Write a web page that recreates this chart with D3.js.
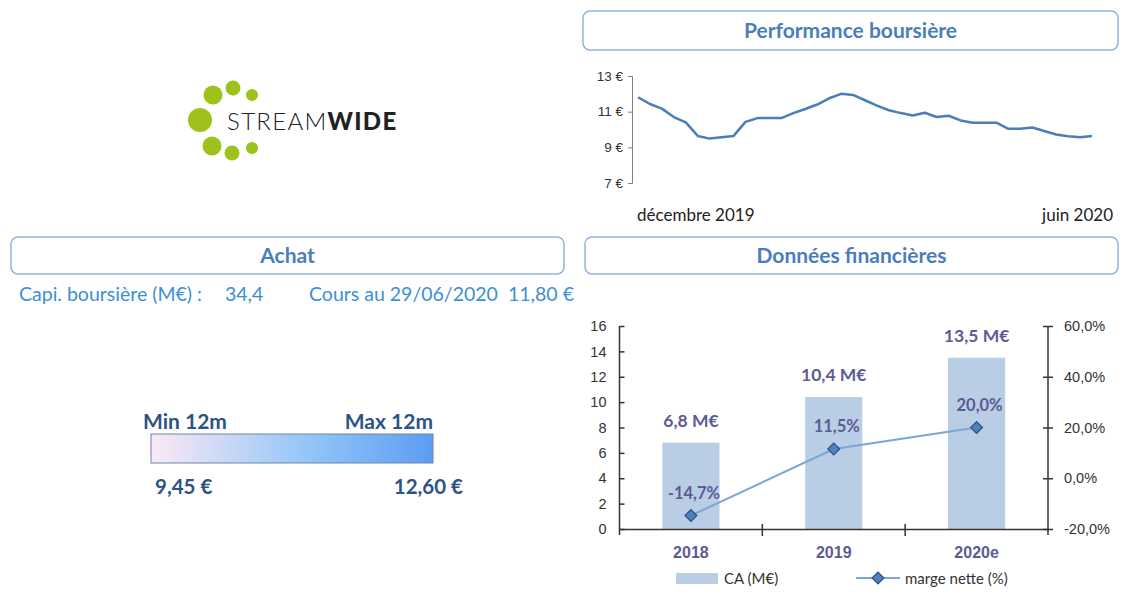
<!DOCTYPE html>
<html>
<head>
<meta charset="utf-8">
<script src="https://cdn.jsdelivr.net/npm/d3@7"></script>
<style>
  body { margin: 0; background: #fff; }
  svg { font-family: Lato, "Open Sans", sans-serif; }
  .panel-title { font-weight: bold; font-size: 21px; fill: #4a7ebb; }
  .axis path, .axis line { stroke: #7f7f7f; }
  .axis text { fill: #333; }
</style>
</head>
<body>
<svg id="chart" width="1125" height="614"></svg>
<script>
// --- data ---
const priceValues = [11.81, 11.43, 11.17, 10.70, 10.40, 9.64, 9.49, 9.57, 9.64, 10.43,
  10.64, 10.64, 10.64, 10.92, 11.15, 11.40, 11.75, 12.00, 11.94, 11.64,
  11.34, 11.08, 10.92, 10.79, 10.94, 10.70, 10.77, 10.51, 10.38, 10.38,
  10.38, 10.04, 10.04, 10.11, 9.92, 9.72, 9.62, 9.57, 9.64];
const priceTicks = [7, 9, 11, 13];
const priceDateLabels = ['décembre 2019', 'juin 2020'];

const years = ['2018', '2019', '2020e'];
const caValues = [6.8, 10.4, 13.5];
const margeValues = [-14.7, 11.5, 20.0];
const caTicks = [0, 2, 4, 6, 8, 10, 12, 14, 16];
const margeTicks = [-20, 0, 20, 40, 60];

const capiLabel = 'Capi. boursière (M€) :';
const capiValue = '34,4';
const coursLabel = 'Cours au 29/06/2020';
const coursValue = '11,80 €';
const min12m = 9.45;
const max12m = 12.60;

const fr = d3.formatLocale({decimal: ',', thousands: ' ', grouping: [3], currency: ['', ' €'], minus: '-'});
const fmt1 = fr.format('.1f');
const fmt2 = fr.format('.2f');

const svg = d3.select('#chart');

// --- panel headers ---
function panel (x, y, w, h, title) {
    svg.append('rect')
        .attr('x', x).attr('y', y).attr('width', w).attr('height', h)
        .attr('rx', 7)
        .attr('fill', '#fff')
        .attr('stroke', '#8eb4e3')
        .attr('stroke-width', 1.5);
    svg.append('text')
        .attr('class', 'panel-title')
        .attr('x', x + w / 2)
        .attr('y', y + h / 2 + 7)
        .attr('text-anchor', 'middle')
        .text(title);
}
panel(583, 11, 535, 39, 'Performance boursière');
panel(11, 237, 553, 37, 'Achat');
panel(585, 237, 533, 37, 'Données financières');

// --- logo ---
const logo = svg.append('g');
const green = '#9dc21b';
[[200, 120, 12], [213, 95, 9.5], [233, 88, 7.5], [252, 95, 6],
 [212, 146, 9.5], [232, 153, 7.5], [252, 148, 6]].forEach(c => {
    logo.append('circle').attr('cx', c[0]).attr('cy', c[1]).attr('r', c[2]).attr('fill', green);
});
const logoText = logo.append('text')
    .attr('x', 227).attr('y', 130)
    .attr('font-size', 24)
    .attr('fill', '#222')
    .attr('letter-spacing', 1.3);
logoText.append('tspan').attr('font-weight', 300).text('STREAM');
logoText.append('tspan').attr('font-weight', 900).text('WIDE');

// --- price line chart ---
const pAxisX = 632, pTop = 76, pBottom = 183;
const xPrice = d3.scaleLinear().domain([0, priceValues.length - 1]).range([638, 1092]);
const yPrice = d3.scaleLinear().domain([7, 13]).range([pBottom, pTop]);

svg.append('g')
    .attr('class', 'axis')
    .attr('transform', `translate(${pAxisX},0)`)
    .call(d3.axisLeft(yPrice).tickValues(priceTicks).tickSize(4).tickPadding(5)
        .tickFormat(d => d + ' €'))
    .call(g => g.selectAll('text').attr('font-size', 13.5));

svg.append('path')
    .datum(priceValues)
    .attr('fill', 'none')
    .attr('stroke', '#4a7ebb')
    .attr('stroke-width', 2.5)
    .attr('stroke-linejoin', 'round')
    .attr('d', d3.line().x((d, i) => xPrice(i)).y(d => yPrice(d)));

svg.append('text')
    .attr('x', 637).attr('y', 221)
    .attr('font-size', 17).attr('fill', '#222')
    .text(priceDateLabels[0]);
svg.append('text')
    .attr('x', 1113).attr('y', 221)
    .attr('text-anchor', 'end')
    .attr('font-size', 17).attr('fill', '#222')
    .text(priceDateLabels[1]);

// --- achat info ---
const info = svg.append('text')
    .attr('x', 19).attr('y', 301)
    .attr('font-size', 19.5)
    .attr('fill', '#3b8fd6');
info.append('tspan').text(capiLabel);
info.append('tspan').attr('x', 225).text(capiValue);
info.append('tspan').attr('x', 309).text(coursLabel);
info.append('tspan').attr('x', 508).text(coursValue);

// --- min / max gradient ---
const grad = svg.append('defs').append('linearGradient').attr('id', 'mm');
grad.append('stop').attr('offset', '0%').attr('stop-color', '#fbe9f4');
grad.append('stop').attr('offset', '55%').attr('stop-color', '#94c6f8');
grad.append('stop').attr('offset', '100%').attr('stop-color', '#5c9cf2');

const gx = d3.scaleLinear().domain([min12m, max12m]).range([151, 433]);
svg.append('rect')
    .attr('x', gx(min12m)).attr('y', 434)
    .attr('width', gx(max12m) - gx(min12m)).attr('height', 29)
    .attr('fill', 'url(#mm)')
    .attr('stroke', '#6c86ad').attr('stroke-width', 1);

const mmColor = '#2d5286';
svg.append('text').attr('x', gx(min12m) - 8).attr('y', 429)
    .attr('font-size', 21).attr('font-weight', 'bold').attr('fill', mmColor)
    .text('Min 12m');
svg.append('text').attr('x', gx(max12m)).attr('y', 429)
    .attr('text-anchor', 'end')
    .attr('font-size', 21).attr('font-weight', 'bold').attr('fill', mmColor)
    .text('Max 12m');
svg.append('text').attr('x', gx(min12m) + 4).attr('y', 494)
    .attr('font-size', 20.5).attr('font-weight', 'bold').attr('fill', mmColor)
    .text(fmt2(min12m) + ' €');
svg.append('text').attr('x', gx(max12m) + 30).attr('y', 494)
    .attr('text-anchor', 'end')
    .attr('font-size', 20.5).attr('font-weight', 'bold').attr('fill', mmColor)
    .text(fmt2(max12m) + ' €');

// --- financial combo chart ---
const fLeft = 619.5, fRight = 1048, fTop = 326, fBottom = 529;
const xCat = d3.scaleBand().domain(years).range([fLeft, fRight]);
const barW = xCat.bandwidth() * 0.4;
const yCa = d3.scaleLinear().domain([0, 16]).range([fBottom, fTop]);
const yMarge = d3.scaleLinear().domain([-20, 60]).range([fBottom, fTop]);
const labelColor = '#5d5b94';
const cx = d => xCat(d) + xCat.bandwidth() / 2;

svg.append('g').selectAll('rect')
    .data(years)
    .join('rect')
    .attr('x', d => cx(d) - barW / 2)
    .attr('width', barW)
    .attr('y', (d, i) => yCa(caValues[i]))
    .attr('height', (d, i) => yCa(0) - yCa(caValues[i]))
    .attr('fill', '#b9cde5');

const axisColor = '#333';
// left axis
const leftAxis = svg.append('g')
    .attr('transform', `translate(${fLeft},0)`)
    .call(d3.axisLeft(yCa).tickValues(caTicks).tickSize(5).tickPadding(8).tickFormat(d3.format('d')));
leftAxis.selectAll('.tick line').attr('x2', 5);
// right axis
const rightAxis = svg.append('g')
    .attr('transform', `translate(${fRight},0)`)
    .call(d3.axisRight(yMarge).tickValues(margeTicks).tickSize(5).tickPadding(11)
        .tickFormat(d => fmt1(d) + '%'));
rightAxis.selectAll('.tick line').attr('x1', -5);
// bottom axis
const bottomAxis = svg.append('g')
    .attr('transform', `translate(0,${fBottom})`)
    .call(d3.axisBottom(xCat).tickSize(0).tickPadding(18));
bottomAxis.selectAll('text')
    .attr('font-size', 16).attr('font-weight', 'bold').attr('fill', labelColor);
bottomAxis.selectAll('.sep')
    .data(years.slice(1))
    .join('line')
    .attr('class', 'sep')
    .attr('x1', d => xCat(d)).attr('x2', d => xCat(d))
    .attr('y1', -5).attr('y2', 7)
    .attr('stroke', axisColor);

[leftAxis, rightAxis].forEach(a => a.selectAll('text').attr('font-size', 14.5).attr('fill', axisColor));
[leftAxis, rightAxis, bottomAxis].forEach(a => {
    a.selectAll('path').attr('stroke', axisColor).attr('stroke-width', 1.5);
    a.selectAll('line').attr('stroke', axisColor).attr('stroke-width', 1.5);
});
leftAxis.select('.domain').attr('d', `M0,${fTop}V${fBottom + 6}`);
rightAxis.select('.domain').attr('d', `M0,${fTop}V${fBottom + 6}`);

// margin line
svg.append('path')
    .datum(years)
    .attr('fill', 'none')
    .attr('stroke', '#7ba6da')
    .attr('stroke-width', 2)
    .attr('d', d3.line().x(d => cx(d)).y((d, i) => yMarge(margeValues[i])));

const diamond = d3.symbol().type(d3.symbolSquare).size(70);
svg.append('g').selectAll('path')
    .data(years)
    .join('path')
    .attr('d', diamond)
    .attr('transform', (d, i) => `translate(${cx(d)},${yMarge(margeValues[i])}) rotate(45)`)
    .attr('fill', '#4f81bd')
    .attr('stroke', '#2c4f8a')
    .attr('stroke-width', 1.2);

// data labels
svg.append('g').selectAll('text')
    .data(years)
    .join('text')
    .attr('x', d => cx(d))
    .attr('y', (d, i) => yCa(caValues[i]) - 16)
    .attr('text-anchor', 'middle')
    .attr('font-size', 17.5).attr('font-weight', 'bold').attr('fill', labelColor)
    .text((d, i) => fmt1(caValues[i]) + ' M€');

svg.append('g').selectAll('text')
    .data(years)
    .join('text')
    .attr('x', d => cx(d) + 3)
    .attr('y', (d, i) => yMarge(margeValues[i]) - 17)
    .attr('text-anchor', 'middle')
    .attr('font-size', 16.5).attr('font-weight', 'bold').attr('fill', labelColor)
    .text((d, i) => fmt1(margeValues[i]) + '%');

// legend
const legend = svg.append('g').attr('font-size', 15).attr('fill', '#333');
legend.append('rect').attr('x', 676).attr('y', 573).attr('width', 42).attr('height', 11).attr('fill', '#b9cde5');
legend.append('text').attr('x', 724).attr('y', 584).text('CA (M€)');
legend.append('line').attr('x1', 856).attr('x2', 900).attr('y1', 578).attr('y2', 578)
    .attr('stroke', '#7ba6da').attr('stroke-width', 2);
legend.append('path').attr('d', diamond)
    .attr('transform', 'translate(878,578) rotate(45)')
    .attr('fill', '#4f81bd').attr('stroke', '#2c4f8a').attr('stroke-width', 1.2);
legend.append('text').attr('x', 905).attr('y', 584).text('marge nette (%)');
</script>
</body>
</html>
